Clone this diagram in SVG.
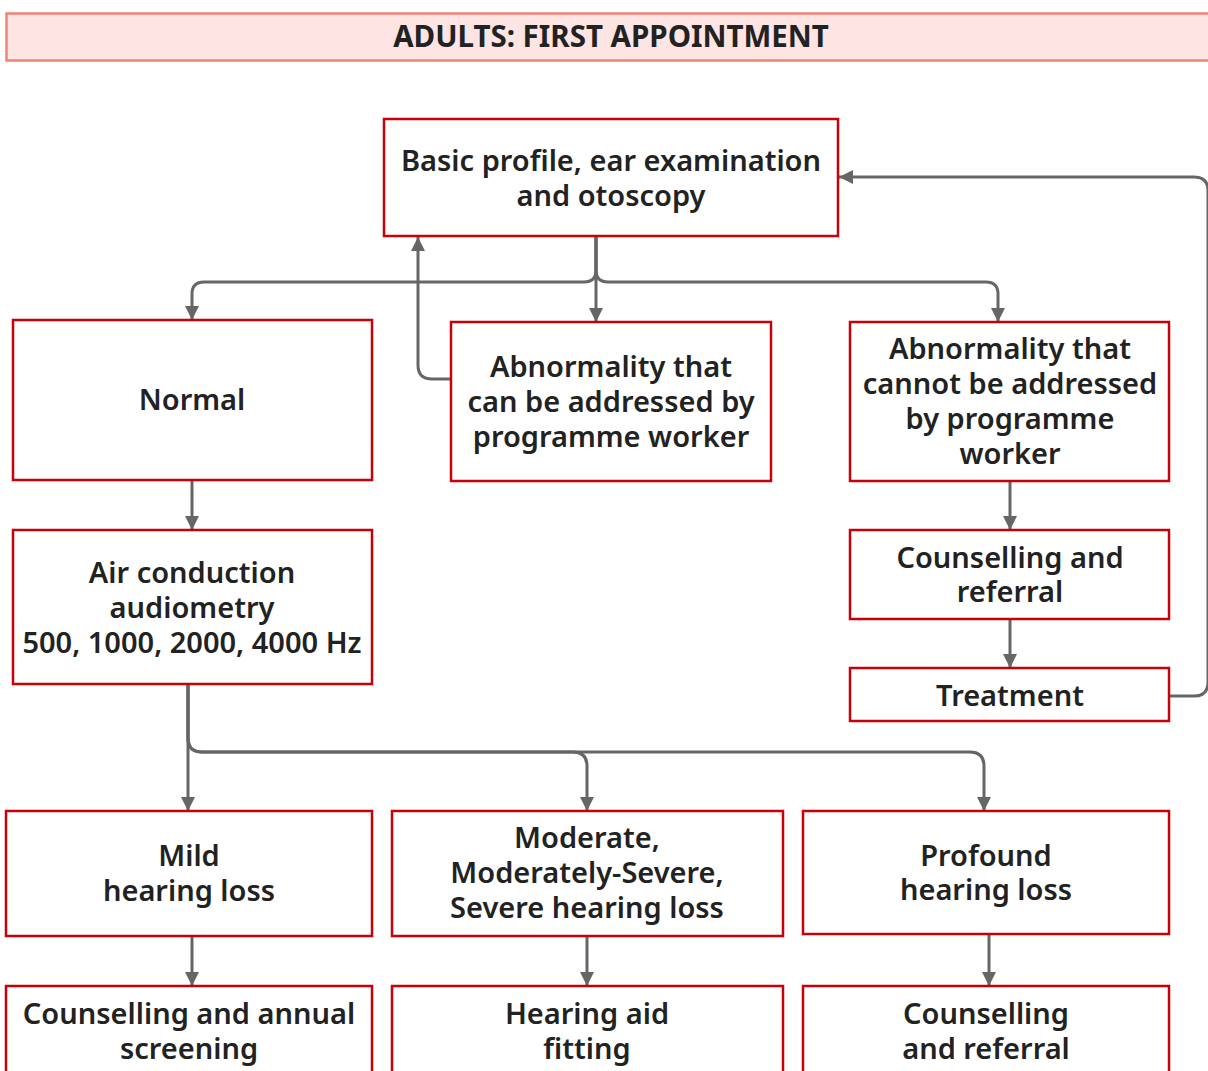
<svg xmlns="http://www.w3.org/2000/svg" width="1208" height="1071" viewBox="0 0 1208 1071">
<defs>
<marker id="ah" markerUnits="userSpaceOnUse" markerWidth="14" markerHeight="16" viewBox="0 0 14 16" refX="14" refY="7" orient="auto">
<path d="M0,0 L14,7 L0,14 Z" fill="#666"/>
</marker>
<style>
.box{fill:#fff;stroke:#c8000a;stroke-width:2.5}
.t{font-family:"Noto Sans","Open Sans",sans-serif;font-weight:600;font-size:29px;fill:#222;text-anchor:middle}
.ca{fill:none;stroke:#666;stroke-width:3;marker-end:url(#ah)}
</style>
</defs>
<rect width="1208" height="1071" fill="#fff"/>
<g id="header">
<rect x="6.5" y="13.5" width="1210" height="47" fill="#fce5e3" stroke="#ef8474" stroke-width="2.5"/>
<text class="t" x="611" y="47" style="font-weight:700;font-size:29.5px">ADULTS: FIRST APPOINTMENT</text>
</g>
<g id="connectors">
<path class="ca" d="M596,236 V270 Q596,282 584,282 H204 Q192,282 192,294 V320"/>
<path class="ca" d="M596,236 V322"/>
<path class="ca" d="M596,236 V270 Q596,282 608,282 H986 Q998,282 998,294 V322"/>
<path class="ca" d="M451,379 H432 Q418,379 418,365 V237"/>
<path class="ca" d="M192,480 V530"/>
<path class="ca" d="M188,684 V811"/>
<path class="ca" d="M188,684 V738 Q188,752 202,752 H573 Q587,752 587,766 V811"/>
<path class="ca" d="M188,684 V738 Q188,752 202,752 H970 Q984,752 984,766 V811"/>
<path class="ca" d="M1010,481 V530"/>
<path class="ca" d="M1010,619 V668"/>
<path class="ca" d="M1169,696 H1194 Q1208,696 1208,682 V191 Q1208,177 1194,177 H839"/>
<path class="ca" d="M192,936 V986"/>
<path class="ca" d="M587,936 V986"/>
<path class="ca" d="M989,934 V986"/>
</g>
<g id="n1"><rect class="box" x="384" y="119" width="454" height="117"/>
<text class="t" x="611" y="171">Basic profile, ear examination</text>
<text class="t" x="611" y="206">and otoscopy</text></g>
<g id="n2"><rect class="box" x="13" y="320" width="359" height="160"/>
<text class="t" x="192" y="410">Normal</text></g>
<g id="n3"><rect class="box" x="451" y="322" width="320" height="159"/>
<text class="t" x="611" y="377">Abnormality that</text>
<text class="t" x="611" y="412">can be addressed by</text>
<text class="t" x="611" y="447">programme worker</text></g>
<g id="n4"><rect class="box" x="850" y="322" width="319" height="159"/>
<text class="t" x="1010" y="359">Abnormality that</text>
<text class="t" x="1010" y="394">cannot be addressed</text>
<text class="t" x="1010" y="429">by programme</text>
<text class="t" x="1010" y="464">worker</text></g>
<g id="n5"><rect class="box" x="850" y="530" width="319" height="89"/>
<text class="t" x="1010" y="568">Counselling and</text>
<text class="t" x="1010" y="602">referral</text></g>
<g id="n6"><rect class="box" x="850" y="668" width="319" height="53"/>
<text class="t" x="1010" y="706">Treatment</text></g>
<g id="n7"><rect class="box" x="13" y="530" width="359" height="154"/>
<text class="t" x="192" y="583">Air conduction</text>
<text class="t" x="192" y="618">audiometry</text>
<text class="t" x="192" y="653">500, 1000, 2000, 4000 Hz</text></g>
<g id="n8"><rect class="box" x="6" y="811" width="366" height="125"/>
<text class="t" x="189" y="866">Mild</text>
<text class="t" x="189" y="901">hearing loss</text></g>
<g id="n9"><rect class="box" x="392" y="811" width="391" height="125"/>
<text class="t" x="587" y="848">Moderate,</text>
<text class="t" x="587" y="883">Moderately-Severe,</text>
<text class="t" x="587" y="918">Severe hearing loss</text></g>
<g id="n10"><rect class="box" x="803" y="811" width="366" height="123"/>
<text class="t" x="986" y="866">Profound</text>
<text class="t" x="986" y="900">hearing loss</text></g>
<g id="n11"><rect class="box" x="6" y="986" width="366" height="100"/>
<text class="t" x="189" y="1024">Counselling and annual</text>
<text class="t" x="189" y="1059">screening</text></g>
<g id="n12"><rect class="box" x="392" y="986" width="391" height="100"/>
<text class="t" x="587" y="1024">Hearing aid</text>
<text class="t" x="587" y="1059">fitting</text></g>
<g id="n13"><rect class="box" x="803" y="986" width="366" height="100"/>
<text class="t" x="986" y="1024">Counselling</text>
<text class="t" x="986" y="1059">and referral</text></g>
</svg>
